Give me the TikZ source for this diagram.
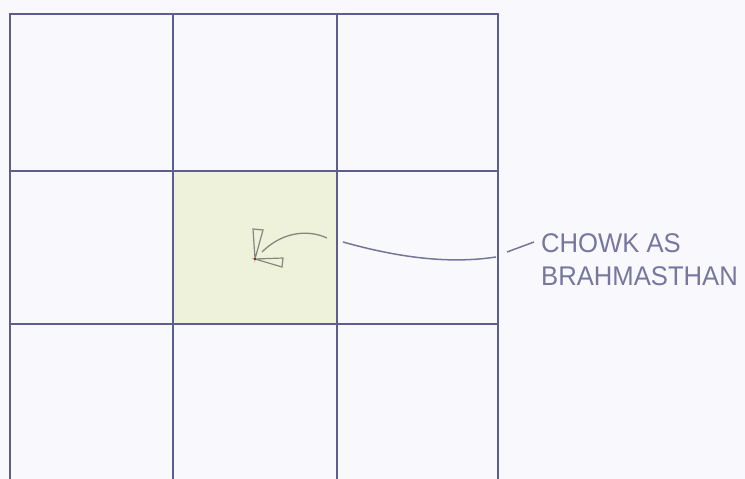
\documentclass[tikz,border=0pt]{standalone}
\usepackage{fontspec}
\setmainfont{Liberation Sans}
\definecolor{paper}{HTML}{F9F9FD}
\definecolor{ink}{HTML}{5E5E8E}
\definecolor{pale}{HTML}{EEF2DA}
\definecolor{pencil}{HTML}{85877E}
\definecolor{lead}{HTML}{75759A}
\begin{document}
\begin{tikzpicture}[
  x=1pt, y=-1pt,
  wall/.style={draw=ink, line width=2.2pt, line cap=round},
  curve/.style={draw=pencil, line width=1.3pt},
  leader/.style={draw=lead, line width=1.5pt},
  tag/.style={font=\fontsize{27}{27}\selectfont, text=ink!85, align=left, inner sep=0pt, xscale=0.95}
]
  % paper
  \fill[paper] (0,0) rectangle (745,479);
  \useasboundingbox (0,0) rectangle (745,479);
  % chowk
  \fill[pale] (173,171) rectangle (337,324);
  % grid
  \draw[wall] (10,479) -- (10,14) -- (498,14) -- (498,479);
  \draw[wall] (173,14) -- (173,479);
  \draw[wall] (337,14) -- (337,479);
  \draw[wall] (10,171) -- (498,171);
  \draw[wall] (10,324) -- (498,324);
  % arrow to centre
  \coordinate (tip) at (255,259);
  \coordinate (tail) at (327,238);
  \draw[curve] (tail) .. controls (305,228) and (280,234) .. (262,252);
  \draw[curve, line width=1.2pt] (tip) -- (253,229) -- (263,230) -- cycle;
  \draw[curve, line width=1.2pt] (tip) -- (283,258) -- (282,267) -- cycle;
  \fill[red!60!black] (tip) circle (1.2pt);
  % label
  \node[tag, anchor=north west] (lbl) at (541,233) {CHOWK AS\\[6pt]BRAHMASTHAN};
  \coordinate (la) at (343,242);
  \coordinate (lb) at (496,257);
  \coordinate (lc) at (507,252);
  \draw[leader] (la) .. controls (400,258) and (450,264) .. (lb);
  \draw[leader] (lc) -- ([shift={(-7,9)}]lbl.north west);
\end{tikzpicture}
\end{document}
